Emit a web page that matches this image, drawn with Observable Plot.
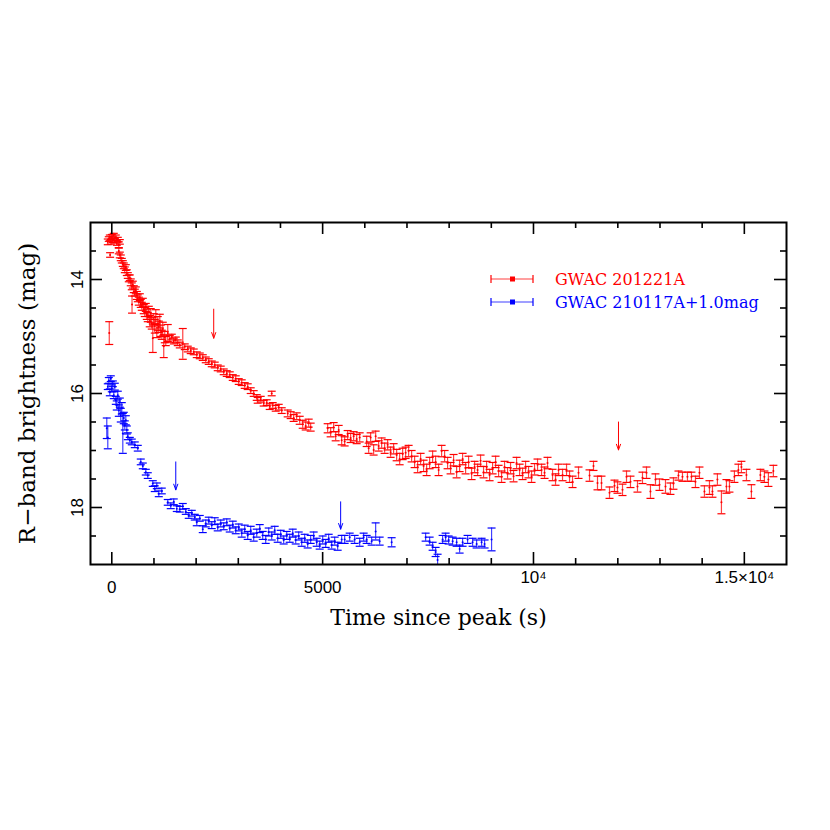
<!DOCTYPE html>
<html><head><meta charset="utf-8">
<script src="https://cdn.jsdelivr.net/npm/d3@7"></script>
<script src="https://cdn.jsdelivr.net/npm/@observablehq/plot@0.6"></script>
<style>
body{margin:0;background:#fff}
#wrap{position:relative;width:830px;height:830px}
#legend{position:absolute;left:0;top:0;pointer-events:none}
</style>
</head><body><div id="wrap"></div>
<script>
// GWAC 201221A : [time since peak (s), R mag, error]
const redData = [
[-95,13.34,.05],[-71,13.29,.04],[-47,13.27,.05],[-24,13.34,.04],[0,13.25,.04],[24,13.30,.05],[47,13.23,.04],[71,13.32,.04],[95,13.27,.05],[118,13.36,.04],[142,13.30,.04],[166,13.39,.05],[190,13.34,.04],
[-60,14.94,.2],[-40,13.57,.04],
[166,13.50,.05],[190,13.57,.05],[213,13.62,.05],[237,13.67,.04],[261,13.72,.05],[284,13.76,.05],[308,13.83,.05],[332,13.79,.05],[356,13.88,.05],[379,13.93,.05],[403,13.98,.06],[427,13.97,.05],[450,14.05,.06],[474,14.12,.06],[498,14.09,.06],[521,14.17,.06],[545,14.23,.06],[569,14.19,.06],[593,14.28,.07],[480,14.44,.15],[616,14.33,.06],[640,14.38,.07],[664,14.31,.06],[687,14.42,.07],[711,14.47,.07],[735,14.40,.07],[758,14.52,.08],[782,14.57,.08],[806,14.49,.07],[830,14.61,.09],[853,14.66,.08],[877,14.56,.09],[900,14.73,.10],[924,14.63,.12],[948,14.77,.10],[972,15.03,.25],[995,14.70,.10],[1019,14.82,.12],[1043,14.66,.13],[1067,14.90,.12],[1090,14.77,.12],[1114,14.83,.10],[1138,14.73,.12],[1161,14.90,.10],[1185,14.97,.08],[1209,14.87,.12],[1232,15.17,.2],[1256,15.01,.10],[1280,15.08,.08],[1327,14.94,.15],[1375,15.04,.06],[1422,15.01,.05],[1469,15.08,.05],[1517,15.06,.05],[1564,15.11,.05],[1612,15.15,.05],[1683,15.13,.27],[1730,15.18,.05],
[1801,15.22,.05],[1872,15.25,.05],[1943,15.27,.05],[2015,15.32,.05],[2086,15.34,.05],[2157,15.37,.05],[2228,15.41,.05],[2299,15.44,.05],[2370,15.48,.05],[2441,15.50,.05],[2512,15.55,.05],[2583,15.57,.05],[2654,15.62,.05],[2726,15.65,.05],[2797,15.67,.05],[2868,15.72,.05],[2939,15.74,.05],[3010,15.79,.05],[3081,15.81,.05],[3152,15.86,.05],[3223,15.88,.05],[3294,15.95,.05],[3365,16.00,.05],[3437,16.07,.05],[3460,16.12,.05],[3531,16.10,.05],[3602,16.17,.05],[3674,16.16,.05],[3792,16.00,.04],[3745,16.23,.05],[3816,16.21,.05],[3887,16.26,.05],[3958,16.24,.05],[4029,16.30,.05],[4171,16.35,.06],[4242,16.38,.06],[4313,16.43,.06],[4384,16.40,.06],[4456,16.47,.07],[4527,16.54,.07],[4598,16.57,.07],[4669,16.52,.07],[4716,16.59,.07],
[5119,16.61,.08],[5190,16.68,.08],[5261,16.59,.08],[5309,16.75,.08],[5380,16.64,.08],[5451,16.82,.08],[5522,16.84,.08],[5593,16.73,.08],[5664,16.78,.08],[5735,16.75,.08],[5807,16.80,.08],[5878,16.77,.08],
[6044,16.84,.09],[6091,16.96,.09],[6138,16.77,.08],[6209,16.99,.09],[6257,16.75,.09],[6328,16.92,.09],[6399,16.87,.09],[6470,16.96,.09],[6541,16.90,.09],[6612,17.03,.09],[6683,16.97,.09],[6755,17.08,.1],[6826,17.15,.1],[6897,17.06,.1],[6968,17.04,.1],[7039,17.01,.1],[7110,17.10,.1],[7181,17.20,.1],[7252,17.29,.1],[7323,17.15,.1],[7394,17.27,.1],[7466,17.34,.1],[7537,17.22,.1],[7608,17.11,.1],[7679,17.20,.1],[7750,17.34,.1],[7821,17.01,.1],[7892,17.10,.1],[7963,17.22,.1],[8034,17.31,.1],[8105,17.17,.1],[8177,17.38,.1],[8248,17.27,.1],[8319,17.15,.1],[8390,17.31,.1],[8461,17.20,.1],[8532,17.41,.1],[8603,17.29,.1],[8674,17.34,.1],[8745,17.18,.1],[8816,17.38,.1],[8888,17.29,.1],[8959,17.43,.1],[9030,17.31,.1],[9101,17.20,.1],[9172,17.36,.1],[9243,17.46,.1],[9314,17.29,.1],[9385,17.40,.1],[9456,17.31,.1],[9527,17.45,.1],[9599,17.22,.1],[9670,17.34,.1],[9741,17.41,.1],[9812,17.29,.1],[9883,17.38,.1],[9954,17.46,.1],[10025,17.33,.1],[10096,17.25,.1],
[10191,17.34,.1],[10262,17.39,.1],[10333,17.22,.1],[10452,17.43,.1],[10523,17.51,.1],[10594,17.34,.1],[10689,17.43,.1],[10784,17.34,.1],[10855,17.46,.1],[10926,17.55,.1],[11068,17.39,.1],[11329,17.44,.1],[11423,17.27,.08],[11518,17.57,.12],[11613,17.57,.12],[11803,17.74,.1],[11921,17.62,.1],[11992,17.65,.1],[12111,17.69,.1],[12206,17.46,.1],[12300,17.55,.1],[12466,17.63,.1],[12585,17.48,.1],[12680,17.39,.1],[12774,17.72,.12],[12893,17.51,.1],[12988,17.60,.1],[13130,17.63,.12],[13248,17.67,.1],[13319,17.58,.1],[13438,17.44,.08],[13533,17.46,.08],[13651,17.46,.08],[13746,17.46,.08],[13841,17.55,.1],[13936,17.39,.1],[14054,17.72,.1],[14173,17.65,.12],[14244,17.72,.1],[14362,17.51,.1],[14457,17.91,.2],[14576,17.63,.12],[14647,17.63,.1],[14765,17.46,.1],[14860,17.34,.1],[14931,17.29,.1],[15050,17.43,.1],[15168,17.72,.12],[15381,17.43,.1],[15476,17.46,.1],[15571,17.51,.12],[15689,17.36,.1]
];
// GWAC 210117A (+1.0 mag offset)
const blueData = [
[-119,16.61,.18],[-95,16.77,.2],[-95,15.88,.05],[-71,15.77,.05],[-47,15.98,.06],[-24,15.74,.05],[0,15.91,.06],[24,15.83,.05],[47,16.03,.06],[71,15.88,.06],[95,16.12,.07],[118,16.21,.08],[142,16.03,.07],[166,16.30,.1],[190,16.16,.08],[213,16.38,.12],[237,16.26,.1],[261,16.70,.35],[284,16.43,.1],[308,16.56,.08],[332,16.47,.08],[356,16.64,.07],[379,16.75,.06],[427,16.82,.05],[474,16.85,.05],[545,16.90,.05],[616,16.96,.05],
[687,17.20,.05],[735,17.27,.05],[806,17.38,.05],[853,17.44,.05],[972,17.58,.05],[1019,17.67,.05],[1067,17.62,.05],[1114,17.76,.05],[1185,17.71,.05],[1327,17.91,.05],[1398,17.97,.05],[1469,17.90,.05],[1541,18.02,.05],[1612,18.03,.05],[1683,17.98,.05],
[1754,18.07,.05],[1825,18.14,.05],[1896,18.10,.05],[1967,18.17,.05],[2015,18.26,.06],[2086,18.19,.05],[2157,18.38,.06],[2228,18.28,.06],[2299,18.23,.06],[2370,18.31,.06],[2441,18.24,.06],[2512,18.35,.06],[2583,18.28,.06],[2654,18.33,.06],[2726,18.26,.06],[2797,18.37,.06],[2868,18.30,.06],[2939,18.40,.06],[3010,18.35,.06],[3081,18.45,.07],[3152,18.38,.07],[3223,18.49,.07],[3294,18.40,.07],[3365,18.52,.07],[3437,18.45,.07],[3508,18.37,.07],[3579,18.49,.07],[3650,18.56,.07],[3721,18.43,.07],[3792,18.50,.07],[3863,18.40,.07],[3934,18.54,.07],[4005,18.47,.07],[4076,18.57,.07],[4148,18.49,.07],[4219,18.54,.07],[4290,18.45,.07],[4361,18.57,.07],[4432,18.50,.07],[4503,18.61,.07],[4574,18.54,.07],[4645,18.64,.07],[4716,18.56,.07],[4787,18.50,.07],[4859,18.61,.07],[4930,18.66,.07],[5001,18.57,.07],[5072,18.63,.07],[5143,18.54,.07],[5214,18.66,.07],[5285,18.59,.07],
[5356,18.68,.07],[5451,18.56,.07],[5522,18.56,.07],[5641,18.52,.07],[5759,18.56,.07],[5878,18.61,.07],[5972,18.52,.07],[6044,18.56,.07],[6162,18.59,.07],[6257,18.42,.15],[6352,18.59,.07],[6636,18.61,.08],
[7442,18.52,.07],[7537,18.59,.07],[7608,18.68,.07],[7679,18.78,.08],[7726,18.92,.1],[7845,18.56,.07],[7916,18.52,.07],[7987,18.57,.07],[8082,18.59,.07],[8177,18.61,.07],[8248,18.73,.07],[8319,18.61,.07],[8437,18.56,.07],[8556,18.61,.07],[8651,18.64,.07],[8769,18.61,.07],[8840,18.64,.07],[9006,18.56,.2]
];
// marked epochs (arrows): [time, mag from, mag to]
const redArrows = [[2417,14.52,15.03],[12016,16.50,16.99]];
const blueArrows = [[1517,17.20,17.69],[5427,17.90,18.38]];
const xMajorTicks = [0,5000,10000,15000];
const xMinorTicks = [1000,2000,3000,4000,6000,7000,8000,9000,11000,12000,13000,14000];
const yMajorTicks = [14,16,18];
const yMinorTicks = [13.5,14.5,15,15.5,16.5,17,17.5,18.5];
const xPlainLabels = [[0,"0"],[5000,"5000"]];
const xPowLabels = [[10000,"10\u2074"],[15000,"1.5\u00d710\u2074"]];
const yLabels = [[14,"14"],[16,"16"],[18,"18"]];
const legendLabels = ["GWAC 201221A","GWAC 210117A+1.0mag"];
const legendColors = ["#ff0000","#0000ff"];
const xTitle = "Time since peak (s)";
const yTitle = "R\u2212band brightness (mag)";

const W = 830, H = 830, mL = 90, mR = 44, mT = 222, mB = 266;
const fH = H - mT - mB, fW = W - mL - mR;
const cap = {draw(ctx){ ctx.moveTo(-4,0); ctx.lineTo(4,0); }};
const rows = a => a.map(([t,m,e]) => ({t,m,e}));
const red = rows(redData), blue = rows(blueData);
const arr = a => a.map(([t,y1,y2]) => ({t,y1,y2}));

function series(data, color){
  return [
    Plot.ruleX(data, {x:"t", y1:d=>d.m-d.e, y2:d=>d.m+d.e, stroke:color, strokeWidth:1.2, strokeOpacity:0.75, clip:true}),
    Plot.dot(data, {x:"t", y:d=>d.m-d.e, symbol:cap, r:3, stroke:color, strokeWidth:1.2, fill:"none", clip:true}),
    Plot.dot(data, {x:"t", y:d=>d.m+d.e, symbol:cap, r:3, stroke:color, strokeWidth:1.2, fill:"none", clip:true}),
    Plot.dot(data, {x:"t", y:"m", r:1, fill:color, stroke:"none", clip:true})
  ];
}

const chart = Plot.plot({
  width: W, height: H, marginLeft: mL, marginRight: mR, marginTop: mT, marginBottom: mB,
  style: {fontFamily: "Liberation Sans, Arial, sans-serif", fontSize: "17px", background: "white", color: "black"},
  x: {domain: [-505, 16000], axis: null},
  y: {domain: [13, 19], reverse: true, axis: null},
  marks: [
    ...series(red, "#ff0000"),
    ...series(blue, "#0000ff"),
    Plot.arrow(arr(redArrows), {x1:"t", x2:"t", y1:"y1", y2:"y2", stroke:"#ff0000", strokeWidth:1, headLength:9, headAngle:40}),
    Plot.arrow(arr(blueArrows), {x1:"t", x2:"t", y1:"y1", y2:"y2", stroke:"#0000ff", strokeWidth:1, headLength:9, headAngle:40}),
    Plot.tickX(xMajorTicks, {x:d=>d, insetTop: fH-12, stroke:"black", strokeWidth:1.6}),
    Plot.tickX(xMajorTicks, {x:d=>d, insetBottom: fH-12, stroke:"black", strokeWidth:1.6}),
    Plot.tickX(xMinorTicks, {x:d=>d, insetTop: fH-6, stroke:"black", strokeWidth:1.6}),
    Plot.tickX(xMinorTicks, {x:d=>d, insetBottom: fH-6, stroke:"black", strokeWidth:1.6}),
    Plot.tickY(yMajorTicks, {y:d=>d, insetRight: fW-12, stroke:"black", strokeWidth:1.6}),
    Plot.tickY(yMajorTicks, {y:d=>d, insetLeft: fW-12, stroke:"black", strokeWidth:1.6}),
    Plot.tickY(yMinorTicks, {y:d=>d, insetRight: fW-6, stroke:"black", strokeWidth:1.6}),
    Plot.tickY(yMinorTicks, {y:d=>d, insetLeft: fW-6, stroke:"black", strokeWidth:1.6}),
    Plot.frame({stroke:"black", strokeWidth:2}),
    Plot.text(xPlainLabels, {x:d=>d[0], text:d=>d[1], frameAnchor:"bottom", dy:28, fontSize:17, textAnchor:"middle"}),
    Plot.text(xPowLabels, {x:d=>d[0], text:d=>d[1], frameAnchor:"bottom", dy:18, fontSize:17, textAnchor:"middle"}),
    Plot.text(yLabels, {y:d=>d[0], text:d=>d[1], frameAnchor:"left", dx:-13, rotate:-90, fontSize:17, textAnchor:"middle"}),
    Plot.text([xTitle], {text:d=>d, frameAnchor:"bottom", dy:60, fontSize:22, fontFamily:"DejaVu Serif, serif", letterSpacing:2.4, textAnchor:"middle"}),
    Plot.text([yTitle], {text:d=>d, frameAnchor:"left", dx:-63, rotate:-90, fontSize:23, fontFamily:"DejaVu Serif, serif", letterSpacing:3.3, textAnchor:"middle"})
  ]
});
const wrap = document.getElementById("wrap");
wrap.appendChild(chart);

// legend overlay
const lg = d3.select(wrap).append("svg").attr("id","legend").attr("width",W).attr("height",H);
legendLabels.forEach((lab,i) => {
  const c = legendColors[i], y = 279 + 23*i;
  const g = lg.append("g").attr("stroke", c).attr("stroke-width", 1.2);
  g.append("line").attr("x1",491).attr("x2",533).attr("y1",y).attr("y2",y).attr("stroke-opacity",0.75);
  g.append("line").attr("x1",491).attr("x2",491).attr("y1",y-4).attr("y2",y+4);
  g.append("line").attr("x1",533).attr("x2",533).attr("y1",y-4).attr("y2",y+4);
  lg.append("rect").attr("x",510).attr("y",y-2.5).attr("width",5).attr("height",5).attr("fill",c);
  lg.append("text").attr("x",555).attr("y",y).attr("dy","0.35em").attr("fill",c)
    .attr("font-family","DejaVu Serif, serif").attr("font-size",16).text(lab);
});
</script>
</body></html>
